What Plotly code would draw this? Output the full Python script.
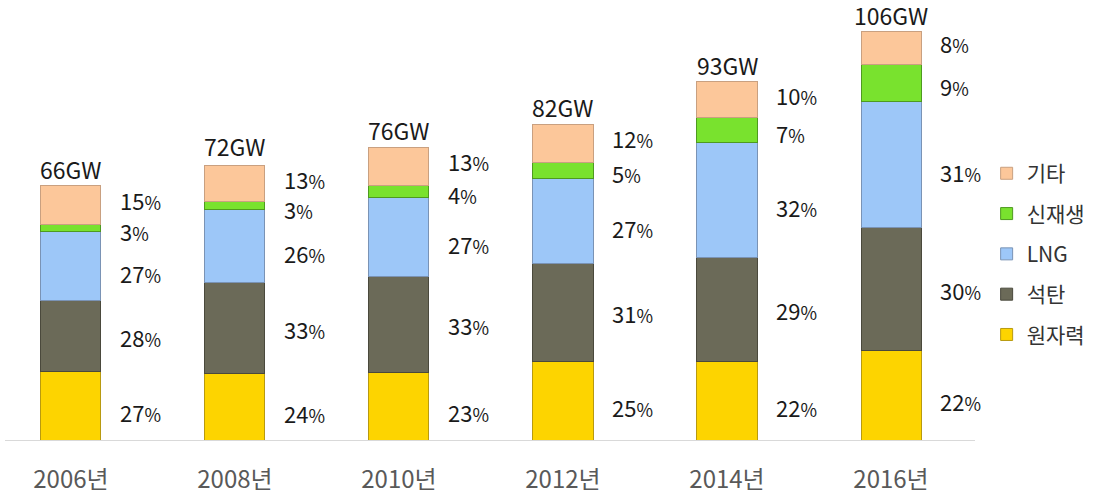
import plotly.graph_objects as go

years = ["2006년", "2008년", "2010년", "2012년", "2014년", "2016년"]
totals_gw = [66, 72, 76, 82, 93, 106]
total_labels = ["66GW", "72GW", "76GW", "82GW", "93GW", "106GW"]

# shares (%) per source, bottom to top
nuclear = [27, 24, 23, 25, 22, 22]   # 원자력
coal = [28, 33, 33, 31, 29, 30]      # 석탄
lng = [27, 26, 27, 27, 32, 31]       # LNG
renew = [3, 3, 4, 5, 7, 9]           # 신재생
other = [15, 13, 13, 12, 10, 8]      # 기타

series_names = ["원자력", "석탄", "LNG", "신재생", "기타"]
series_vals = [nuclear, coal, lng, renew, other]
legend_ranks = [5, 4, 3, 2, 1]
label_yshift = [-6, -1, -7, -3, 5]   # px nudges for percent labels
colors = ["#FDD400", "#6B6A58", "#9DC7F8", "#79E22E", "#FCC79A"]
edge_colors = ["#B89A10", "#4A493C", "#7A93B5", "#4E9A20", "#C9A080"]

FONT = "Noto Sans CJK KR, Malgun Gothic, sans-serif"

x_idx = list(range(len(years)))
fig = go.Figure()

annotations = []
for name, vals, col, ecol, rk in zip(series_names, series_vals, colors, edge_colors, legend_ranks):
    fig.add_trace(go.Bar(
        x=x_idx,
        y=[t * p / 100 for t, p in zip(totals_gw, vals)],
        name=name,
        marker=dict(color=col, line=dict(color=ecol, width=1)),
        width=0.366,
        legendgroup=name,
        legendrank=rk,
        hoverinfo="skip",
    ))

# percentage labels beside each segment
for i in x_idx:
    base = 0
    for vals, ys in zip(series_vals, label_yshift):
        h = totals_gw[i] * vals[i] / 100
        annotations.append(dict(
            x=i, y=base + h / 2, xref="x", yref="y",
            text=f"{vals[i]}<span style='font-size:18px'>%</span>",
            showarrow=False, xanchor="left", yanchor="middle",
            xshift=47, yshift=ys,
            font=dict(family=FONT, size=22, color="#1a1a1a"),
        ))
        base += h
    annotations.append(dict(
        x=i, y=totals_gw[i], xref="x", yref="y",
        text=total_labels[i], showarrow=False,
        xanchor="center", yanchor="bottom", yshift=-2,
        font=dict(family=FONT, size=23, color="#1a1a1a"),
    ))

fig.update_layout(
    width=1097, height=495,
    margin=dict(l=5, r=122, t=0, b=50),
    paper_bgcolor="white", plot_bgcolor="white",
    barmode="stack",
    showlegend=True,
    legend=dict(
        traceorder="grouped", tracegroupgap=10,
        x=1.012, xanchor="left", y=0.652, yanchor="top",
        font=dict(family=FONT, size=21, color="#333333"),
        bgcolor="rgba(0,0,0,0)",
    ),
    xaxis=dict(
        range=[-0.402, 5.512], tickmode="array", tickvals=x_idx, ticktext=years,
        showgrid=False, zeroline=False, showline=True, linecolor="#D9D9D9", linewidth=1,
        ticks="", ticklabelstandoff=18,
        tickfont=dict(family=FONT, size=24, color="#595959"),
    ),
    yaxis=dict(range=[0, 114.3], visible=False, showgrid=False),
    annotations=annotations,
    font=dict(family=FONT),
)

fig.write_html("out.html", config={"displayModeBar": False},
               post_script="document.body.style.margin='0';document.body.style.padding='0';")
